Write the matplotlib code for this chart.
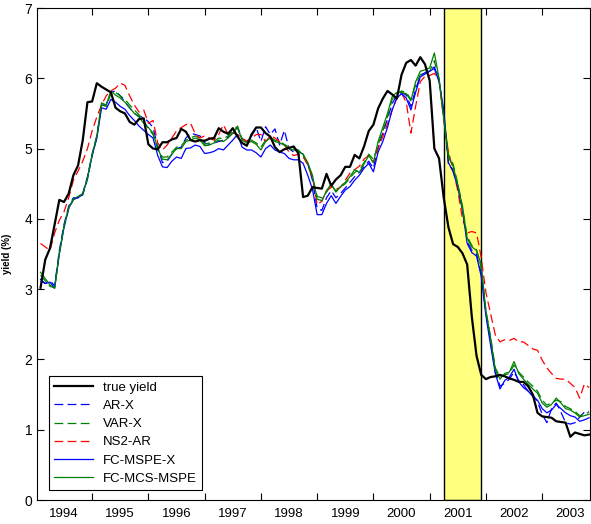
import numpy as np
import matplotlib
matplotlib.use('Agg')
import matplotlib.pyplot as plt

plt.rcParams['font.family'] = ['Liberation Sans', 'DejaVu Sans']

# monthly observations, Feb 1994 .. Nov 2003
months = np.arange(1, 119)
dates = 1994 + months / 12.0

true_yield = [3.02, 3.42, 3.58, 3.92, 4.27, 4.24, 4.36, 4.62, 4.76, 5.12,
              5.66, 5.67, 5.93, 5.88, 5.84, 5.80, 5.58, 5.53, 5.50, 5.38,
              5.34, 5.42, 5.43, 5.06, 5.00, 4.99, 5.09, 5.09, 5.13, 5.15,
              5.28, 5.24, 5.12, 5.10, 5.12, 5.11, 5.14, 5.15, 5.29, 5.24,
              5.21, 5.29, 5.17, 5.08, 5.04, 5.20, 5.30, 5.30, 5.22, 5.17,
              5.02, 4.95, 4.99, 5.01, 5.03, 4.93, 4.31, 4.33, 4.45, 4.44,
              4.43, 4.64, 4.47, 4.56, 4.62, 4.74, 4.74, 4.91, 4.86, 5.03,
              5.25, 5.34, 5.57, 5.71, 5.82, 5.77, 5.71, 6.05, 6.22, 6.26,
              6.18, 6.30, 6.20, 5.97, 5.00, 4.86, 4.30, 3.88, 3.64, 3.60,
              3.51, 3.35, 2.60, 2.05, 1.78, 1.72, 1.75, 1.76, 1.78, 1.76,
              1.73, 1.71, 1.68, 1.68, 1.62, 1.50, 1.24, 1.19, 1.18, 1.17,
              1.12, 1.11, 1.10, 0.90, 0.96, 0.94, 0.92, 0.93]

ar_x = [3.12, 3.08, 3.12, 3.05, 3.55, 3.92, 4.18, 4.30, 4.30, 4.36,
        4.60, 4.92, 5.18, 5.62, 5.62, 5.80, 5.82, 5.75, 5.66, 5.58,
        5.50, 5.46, 5.44, 5.38, 5.30, 5.02, 4.80, 4.82, 4.92, 5.00,
        5.02, 5.15, 5.22, 5.20, 5.18, 5.08, 5.06, 5.08, 5.10, 5.12,
        5.16, 5.22, 5.30, 5.14, 5.10, 5.18, 5.30, 5.10, 5.31, 5.20,
        5.28, 5.05, 5.26, 5.00, 4.95, 4.96, 4.92, 4.78, 4.55, 4.15,
        4.12, 4.30, 4.40, 4.30, 4.36, 4.44, 4.52, 4.60, 4.66, 4.74,
        4.82, 4.72, 5.02, 5.22, 5.42, 5.64, 5.76, 5.80, 5.76, 5.60,
        5.84, 6.04, 6.08, 6.12, 6.16, 5.98, 5.50, 4.78, 4.70, 4.48,
        4.15, 3.68, 3.55, 3.50, 3.22, 2.66, 2.25, 1.82, 1.62, 1.66,
        1.72, 1.82, 1.70, 1.64, 1.55, 1.50, 1.40, 1.22, 1.10, 1.30,
        1.38, 1.25, 1.10, 1.08, 1.10, 1.18, 1.25, 1.26]

var_x = [3.20, 3.12, 3.04, 3.02, 3.52, 3.88, 4.14, 4.27, 4.31, 4.34,
         4.56, 4.90, 5.15, 5.62, 5.60, 5.78, 5.80, 5.75, 5.70, 5.62,
         5.55, 5.48, 5.40, 5.28, 5.20, 4.98, 4.88, 4.88, 4.95, 5.02,
         5.04, 5.12, 5.15, 5.18, 5.14, 5.06, 5.08, 5.10, 5.15, 5.14,
         5.18, 5.25, 5.32, 5.14, 5.10, 5.12, 5.08, 5.02, 5.12, 5.16,
         5.12, 5.10, 5.06, 5.02, 5.00, 4.98, 4.90, 4.76, 4.58, 4.32,
         4.30, 4.38, 4.48, 4.40, 4.45, 4.50, 4.58, 4.66, 4.70, 4.80,
         4.92, 4.85, 5.05, 5.25, 5.45, 5.70, 5.78, 5.82, 5.80, 5.70,
         5.90, 6.05, 6.08, 6.10, 6.25, 5.98, 5.45, 4.92, 4.78, 4.50,
         4.18, 3.75, 3.62, 3.56, 3.30, 2.70, 2.32, 1.88, 1.75, 1.78,
         1.80, 1.92, 1.82, 1.75, 1.68, 1.62, 1.55, 1.42, 1.35, 1.38,
         1.42, 1.40, 1.33, 1.30, 1.26, 1.20, 1.22, 1.25]

ns2_ar = [3.65, 3.60, 3.55, 3.80, 3.98, 4.10, 4.30, 4.55, 4.68, 4.82,
          5.00, 5.25, 5.45, 5.62, 5.75, 5.82, 5.86, 5.93, 5.90, 5.75,
          5.62, 5.52, 5.55, 5.36, 5.40, 5.08, 4.98, 5.05, 5.15, 5.25,
          5.30, 5.34, 5.36, 5.21, 5.15, 5.18, 5.15, 5.12, 5.20, 5.34,
          5.20, 5.22, 5.20, 5.15, 5.10, 5.15, 5.20, 5.20, 5.10, 5.18,
          5.15, 5.10, 5.05, 4.95, 4.90, 4.92, 4.88, 4.78, 4.60, 4.20,
          4.25, 4.40, 4.45, 4.42, 4.45, 4.55, 4.65, 4.70, 4.75, 4.85,
          4.90, 4.80, 5.00, 5.17, 5.35, 5.55, 5.72, 5.79, 5.66, 5.22,
          5.60, 5.95, 6.03, 6.04, 6.07, 5.97, 5.40, 4.95, 4.70, 4.40,
          4.00, 3.80, 3.82, 3.80, 3.45, 2.95, 2.65, 2.35, 2.25, 2.28,
          2.27, 2.30, 2.25, 2.25, 2.20, 2.15, 2.13, 1.99, 1.88, 1.80,
          1.73, 1.72, 1.72, 1.66, 1.60, 1.45, 1.65, 1.60]

fc_mspe_x = [3.14, 3.08, 3.10, 3.02, 3.50, 3.88, 4.15, 4.28, 4.30, 4.35,
             4.58, 4.90, 5.15, 5.58, 5.56, 5.70, 5.66, 5.60, 5.56, 5.47,
             5.40, 5.32, 5.26, 5.20, 5.15, 4.90, 4.74, 4.73, 4.82, 4.88,
             4.86, 5.00, 5.01, 5.05, 5.03, 4.93, 4.94, 4.96, 5.00, 4.98,
             5.05, 5.12, 5.20, 5.02, 4.98, 4.98, 4.94, 4.88, 5.00, 5.05,
             4.98, 4.95, 4.93, 4.86, 4.84, 4.84, 4.79, 4.62, 4.42, 4.06,
             4.06, 4.22, 4.33, 4.22, 4.32, 4.41, 4.46, 4.55, 4.62, 4.72,
             4.79, 4.67, 4.95, 5.10, 5.30, 5.55, 5.72, 5.78, 5.72, 5.55,
             5.80, 6.02, 6.06, 6.10, 6.14, 5.95, 5.55, 4.80, 4.67, 4.45,
             4.12, 3.65, 3.52, 3.47, 3.18, 2.62, 2.20, 1.80, 1.58, 1.70,
             1.75, 1.86, 1.68, 1.60, 1.55, 1.47, 1.42, 1.30, 1.24, 1.28,
             1.36, 1.30, 1.24, 1.20, 1.18, 1.12, 1.14, 1.17]

fc_mcs_mspe = [3.24, 3.15, 3.06, 3.01, 3.50, 3.90, 4.16, 4.28, 4.32, 4.36,
               4.58, 4.92, 5.18, 5.65, 5.62, 5.82, 5.76, 5.72, 5.66, 5.58,
               5.50, 5.45, 5.36, 5.30, 5.22, 5.00, 4.85, 4.84, 4.92, 5.00,
               5.00, 5.10, 5.12, 5.15, 5.12, 5.04, 5.05, 5.08, 5.12, 5.10,
               5.15, 5.22, 5.30, 5.12, 5.08, 5.10, 5.06, 4.98, 5.10, 5.15,
               5.10, 5.08, 5.05, 5.00, 4.98, 4.96, 4.92, 4.80, 4.62, 4.28,
               4.26, 4.40, 4.50, 4.38, 4.46, 4.52, 4.60, 4.70, 4.66, 4.78,
               4.90, 4.80, 5.10, 5.30, 5.50, 5.74, 5.80, 5.80, 5.78, 5.68,
               5.95, 6.10, 6.12, 6.15, 6.36, 6.00, 5.42, 4.88, 4.75, 4.48,
               4.15, 3.72, 3.60, 3.55, 3.35, 2.68, 2.30, 1.85, 1.72, 1.80,
               1.82, 1.97, 1.80, 1.72, 1.65, 1.58, 1.52, 1.38, 1.32, 1.36,
               1.45, 1.38, 1.30, 1.28, 1.24, 1.18, 1.20, 1.22]

# NBER recession Mar 2001 - Nov 2001
rec_start = 2001 + 3 / 12.0
rec_end = 2001 + 11 / 12.0

year_labels = ['1994', '1995', '1996', '1997', '1998', '1999', '2000', '2001', '2002', '2003']

fig = plt.figure(figsize=(5.91, 5.24), dpi=100)
ax = fig.add_axes([37 / 591, 24 / 524, 553 / 591, 492 / 524])

ax.axvspan(rec_start, rec_end, facecolor='#FFFF80', edgecolor='black', linewidth=1.0, zorder=0)

dash = (0, (7, 3.5))
green = (0, 0.5, 0)
h_true, = ax.plot(dates, true_yield, color='black', lw=1.6, zorder=4, label='true yield')
h_ar, = ax.plot(dates, ar_x, color='blue', lw=0.9, ls=dash, label='AR-X')
h_var, = ax.plot(dates, var_x, color=green, lw=0.9, ls=dash, label='VAR-X')
h_ns, = ax.plot(dates, ns2_ar, color='red', lw=0.9, ls=dash, label='NS2-AR')
h_fc1, = ax.plot(dates, fc_mspe_x, color='blue', lw=0.9, label='FC-MSPE-X')
h_fc2, = ax.plot(dates, fc_mcs_mspe, color=green, lw=0.9, label='FC-MCS-MSPE')

ax.set_xlim(1994.02, 2003.85)
ax.set_ylim(0, 7)

# ticks at year boundaries, labels centred in each year
ax.set_xticks(np.arange(1995, 2004))
ax.set_xticklabels([])
ax.set_xticks(np.arange(1994, 2004) + 0.5, minor=True)
ax.set_xticklabels(year_labels, minor=True)
ax.set_yticks(np.arange(0, 8))
ax.tick_params(which='major', direction='in', length=5, width=0.8,
               top=True, right=True, labelsize=10)
ax.tick_params(which='minor', length=0, labelsize=9.5, pad=6)

for s in ax.spines.values():
    s.set_linewidth(0.8)

ax.set_ylabel('yield (%)', fontsize=7, fontweight='bold')
ax.yaxis.set_label_coords(-25 / 553, 0.5)

leg = ax.legend(handles=[h_true, h_ar, h_var, h_ns, h_fc1, h_fc2],
                loc='lower left', bbox_to_anchor=(12 / 553, 10 / 492), borderaxespad=0,
                fontsize=9.5, handlelength=2.9, labelspacing=0.45,
                fancybox=False, framealpha=1, edgecolor='black')
leg.get_frame().set_linewidth(0.8)

fig.savefig('out.png', dpi=100)
